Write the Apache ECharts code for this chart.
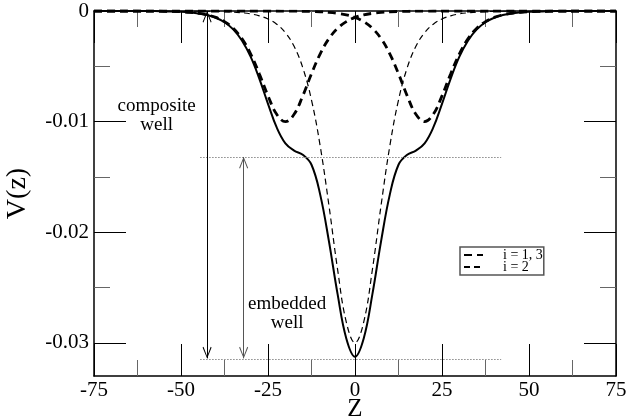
<!DOCTYPE html>
<html>
<head>
<meta charset="utf-8">
<script src="https://cdn.jsdelivr.net/npm/echarts@6/dist/echarts.min.js"></script>
<style>html,body{margin:0;padding:0;background:#fff}#c{width:630px;height:419px}</style>
</head>
<body>
<div id="c"></div>
<script>
// z positions (x axis)
const zValues = [-75,-72.5,-70,-67.5,-65,-62.5,-60,-57.5,-55,-52.5,-50,-47.5,-45,-42.5,-40,-37.5,-35,-32.5,-30,-27.5,-25,-22.5,-20,-17.5,-15,-12.5,-10,-7.5,-5,-2.5,0,2.5,5,7.5,10,12.5,15,17.5,20,22.5,25,27.5,30,32.5,35,37.5,40,42.5,45,47.5,50,52.5,55,57.5,60,62.5,65,67.5,70,72.5,75];
// well i = 1 (centred at z = -20)
const well1 = [0,0,0,0,0,0,-0.00001,-0.00001,-0.00003,-0.00004,-0.00007,-0.00012,-0.00021,-0.00035,-0.00058,-0.00096,-0.00157,-0.0025,-0.00387,-0.00567,-0.00767,-0.00934,-0.01,-0.00934,-0.00767,-0.00567,-0.00387,-0.0025,-0.00157,-0.00096,-0.00058,-0.00035,-0.00021,-0.00012,-0.00007,-0.00004,-0.00003,-0.00001,-0.00001,0,0,0,0,0,0,0,0,0,0,0,0,0,0,0,0,0,0,0,0,0,0];
// well i = 2 (centred at z = 0)
const well2 = [0,0,0,0,0,0,0,0,0,0,0,-0.00001,-0.00001,-0.00002,-0.00003,-0.00006,-0.00009,-0.00016,-0.00026,-0.00044,-0.00072,-0.00119,-0.00196,-0.00319,-0.00513,-0.00805,-0.01221,-0.01755,-0.02337,-0.02813,-0.03,-0.02813,-0.02337,-0.01755,-0.01221,-0.00805,-0.00513,-0.00319,-0.00196,-0.00119,-0.00072,-0.00044,-0.00026,-0.00016,-0.00009,-0.00006,-0.00003,-0.00002,-0.00001,-0.00001,0,0,0,0,0,0,0,0,0,0,0];
// well i = 3 (centred at z = +20)
const well3 = [0,0,0,0,0,0,0,0,0,0,0,0,0,0,0,0,0,0,0,0,0,0,-0.00001,-0.00001,-0.00003,-0.00004,-0.00007,-0.00012,-0.00021,-0.00035,-0.00058,-0.00096,-0.00157,-0.0025,-0.00387,-0.00567,-0.00767,-0.00934,-0.01,-0.00934,-0.00767,-0.00567,-0.00387,-0.0025,-0.00157,-0.00096,-0.00058,-0.00035,-0.00021,-0.00012,-0.00007,-0.00004,-0.00003,-0.00001,-0.00001,0,0,0,0,0,0];
// composite well
const composite = [0,0,0,0,0,0,-0.00001,-0.00001,-0.00003,-0.00004,-0.00007,-0.00013,-0.00022,-0.00037,-0.00061,-0.00102,-0.00166,-0.00266,-0.00413,-0.00611,-0.00839,-0.01053,-0.01197,-0.01262,-0.01300,-0.01390,-0.01660,-0.02080,-0.02560,-0.02960,-0.03125,-0.02960,-0.02560,-0.02080,-0.01660,-0.01390,-0.01300,-0.01262,-0.01197,-0.01053,-0.00839,-0.00611,-0.00413,-0.00266,-0.00166,-0.00102,-0.00061,-0.00037,-0.00022,-0.00013,-0.00007,-0.00004,-0.00003,-0.00001,-0.00001,0,0,0,0,0,0];

const yTicks = [0,-0.01,-0.02,-0.03];
const yMinorTicks = [-0.005,-0.015,-0.025];

// annotations
const annotTexts = ['composite\nwell','embedded\nwell'];
const annotPos = [[-57,-0.00947],[-19.5,-0.02738]];
const arrowComposite = [[-42.5,0],[-42.5,-0.0314]];
const arrowEmbedded = [[-32,-0.0132],[-32,-0.0314]];
const dottedUpper = [[-44.5,-0.0132],[42,-0.0132]];
const dottedLower = [[-44.5,-0.0315],[42,-0.0315]];

const serif = 'Liberation Serif';
const pair = arr => zValues.map((z,i)=>[z,arr[i]]);
const chevron = 'path://M0,-11 L0.01,-11 L0,-11 Z M0,0 L5,11 L4,11.6 L0,2.4 L-4,11.6 L-5,11 Z';

function xAx(pos, labels){
  return {type:'value',min:-75,max:75,interval:25,position:pos,
    axisLine:{show:true,onZero:false,lineStyle:{color:'#000',width:1.5}},
    axisTick:{show:true,inside:true,length:32,lineStyle:{color:'#000',width:1}},
    minorTick:{show:true,splitNumber:2,length:16,lineStyle:{color:'#666',width:1}},
    splitLine:{show:false},minorSplitLine:{show:false},
    axisLabel:{show:labels,margin:4,fontFamily:serif,fontSize:21,color:'#000'},
    name: labels ? 'Z' : '', nameLocation:'middle', nameGap:21, nameMoveOverlap:false,
    nameTextStyle:{fontFamily:serif,fontSize:25,color:'#000',verticalAlign:'top',lineHeight:25}};
}
function yAx(pos, labels, minor){
  return {type:'value',min:-0.033,max:0,position:pos,
    axisLine:{show:!minor,onZero:false,lineStyle:{color:'#000',width:1.5}},
    axisTick:{show:true,inside:true,length:minor?16:32,customValues:minor?yMinorTicks:yTicks,
      lineStyle:{color:minor?'#666':'#000',width:1}},
    splitLine:{show:false},
    axisLabel:{show:labels,customValues:yTicks,margin:5,fontFamily:serif,fontSize:21,color:'#000',
      formatter:v=> v===0?'0':v.toFixed(2)},
    name: labels ? 'V(z)' : '', nameLocation:'middle', nameGap:62, nameMoveOverlap:false,
    nameTextStyle:{fontFamily:serif,fontSize:28,color:'#000'}};
}

const chart = echarts.init(document.getElementById('c'), null, {renderer:'canvas'});
chart.setOption({
  animation:false,
  backgroundColor:'#fff',
  grid:{left:94,right:14,top:11,bottom:43,containLabel:false,outerBoundsMode:'none'},
  legend:{
    data:['i = 1, 3','i = 2'],
    left:460, top:247, orient:'vertical',
    itemWidth:19, itemHeight:10, itemGap:-2,
    padding:[1,1,1,3],
    borderColor:'#555', borderWidth:1.5, backgroundColor:'#fff',
    itemStyle:{opacity:0},
    textStyle:{fontFamily:serif,fontSize:14,lineHeight:12,color:'#000',padding:[0,0,0,15]},
    selectedMode:false
  },
  xAxis:[xAx('bottom',true), xAx('top',false)],
  yAxis:[yAx('left',true,false), yAx('right',false,false), yAx('left',false,true), yAx('right',false,true)],
  series:[
    {name:'i = 1, 3',type:'line',data:pair(well1),smooth:0.4,symbol:'none',
      itemStyle:{color:'#000'},lineStyle:{color:'#000',width:2.8,type:[8,5]},z:3},
    {name:'i = 1, 3',type:'line',data:pair(well3),smooth:0.4,symbol:'none',
      itemStyle:{color:'#000'},lineStyle:{color:'#000',width:2.8,type:[8,5]},z:3},
    {name:'i = 2',type:'line',data:pair(well2),smooth:0.4,symbol:'none',
      itemStyle:{color:'#000'},lineStyle:{color:'#000',width:1.2,type:[6,4]},z:3},
    {name:'composite',type:'line',data:pair(composite),smooth:0.4,symbol:'none',
      itemStyle:{color:'#000'},lineStyle:{color:'#000',width:2},z:4},
    {name:'annot',type:'scatter',symbol:'circle',symbolSize:0,
      itemStyle:{color:'#000'},
      data:annotPos.map((p,i)=>[p[0],p[1],annotTexts[i]]),
      label:{show:true,position:'inside',formatter:p=>p.data[2],fontFamily:serif,fontSize:19,
        lineHeight:19,color:'#000',textBorderWidth:0,opacity:1,align:'center',verticalAlign:'middle'},
      silent:true,
      markLine:{
        silent:true, animation:false,
        label:{show:false},
        symbol:['none','none'],
        data:[
          [{coord:dottedUpper[0],lineStyle:{color:'#888',width:1,type:[1.5,1.5]}},{coord:dottedUpper[1]}],
          [{coord:dottedLower[0],lineStyle:{color:'#888',width:1,type:[1.5,1.5]}},{coord:dottedLower[1]}],
          [{coord:arrowComposite[0],symbol:chevron,symbolSize:[9,23],lineStyle:{color:'#000',width:1,type:'solid'}},
           {coord:arrowComposite[1],symbol:chevron,symbolSize:[9,23]}],
          [{coord:arrowEmbedded[0],symbol:chevron,symbolSize:[9,23],lineStyle:{color:'#555',width:1,type:'solid'}},
           {coord:arrowEmbedded[1],symbol:chevron,symbolSize:[9,23]}]
        ]
      }
    }
  ]
});
</script>
</body>
</html>
